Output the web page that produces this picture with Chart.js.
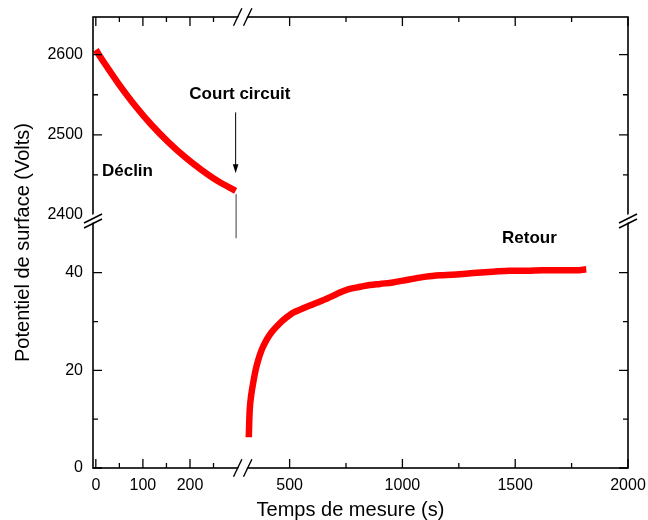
<!DOCTYPE html>
<html>
<head>
<meta charset="utf-8">
<script src="https://cdn.jsdelivr.net/npm/chart.js@4.4.1/dist/chart.umd.min.js"></script>
<style>
  html, body { margin: 0; padding: 0; background: #fff; }
  #wrap { width: 648px; height: 520px; }
</style>
</head>
<body>
<div id="wrap"><canvas id="chart" width="648" height="520"></canvas></div>
<script>
// Déclin du potentiel (avant le court-circuit) - échelle haute
const declinTemps = [0, 20, 48, 84, 119, 154, 190, 225, 260, 297];
const declinPotentiel = [2606, 2588, 2564, 2536, 2512, 2491, 2472, 2456, 2442, 2430];

// Retour du potentiel (après le court-circuit) - échelle basse
const retourTemps = [319, 321, 323, 330, 338, 348, 360, 377, 397, 420, 449, 480, 515, 555, 597, 640, 685, 720, 759, 800, 833, 900, 958, 1030, 1106, 1180, 1253, 1330, 1401, 1476, 1550, 1623, 1700, 1771, 1815];
const retourPotentiel = [6.3, 9.5, 11.8, 15.0, 17.3, 19.8, 22.0, 24.3, 26.2, 27.8, 29.3, 30.6, 31.8, 32.6, 33.4, 34.2, 35.1, 35.9, 36.6, 37.0, 37.3, 37.7, 38.0, 38.6, 39.2, 39.5, 39.7, 40.0, 40.2, 40.4, 40.4, 40.5, 40.5, 40.5, 40.7];

// trait gris sous la fin du déclin
const chuteTemps = [298, 298];
const chutePotentiel = [2426, 2371];

// graduations
const xGaucheTicks = [0, 100, 200];
const xGaucheMineurs = [50, 150, 250];
const xDroiteTicks = [500, 1000, 1500, 2000];
const xDroiteMineurs = [750, 1250, 1750];
const yHautTicks = [2400, 2500, 2600];
const yHautMineurs = [2450, 2550];
const yBasTicks = [0, 20, 40];
const yBasMineurs = [10, 30];

const FONT = '"Liberation Sans", Arial, sans-serif';

const toPoints = (xs, ys) => xs.map((x, i) => ({x: x, y: ys[i]}));
const setTicks = (values) => (scale) => { scale.ticks = values.map(v => ({value: v})); };

// taille fixe des axes, sans marge ajoutée pour les étiquettes de bord
const fixSize = (w, h) => (s) => {
  if (w) s.width = w;
  if (h) s.height = h;
  s.paddingLeft = 0; s.paddingRight = 0;
  s.paddingTop = 0; s.paddingBottom = 0;
};

const tickOpts = {
  font: {family: FONT, size: 16},
  color: '#000',
  autoSkip: false,
  maxRotation: 0,
  callback: v => String(v)
};

// cadre, graduations intérieures, coupures d'axes et annotations
const cadre = {
  id: 'cadre',
  afterDatasetsDraw(chart) {
    const {ctx, chartArea: a, scales} = chart;
    const xL = scales.xL, xR = scales.xR, yH = scales.yH, yB = scales.yB;
    const bx = xL.right;
    const by = yH.bottom;

    ctx.save();
    ctx.strokeStyle = '#000';
    ctx.fillStyle = '#000';
    ctx.lineWidth = 1.6;
    ctx.strokeRect(a.left, a.top, a.right - a.left, a.bottom - a.top);

    ctx.lineWidth = 1.3;
    const tickX = (scale, values, len) => {
      values.forEach(v => {
        const px = scale.getPixelForValue(v);
        if (Math.abs(px - bx) < 6) return;
        ctx.beginPath();
        ctx.moveTo(px, a.bottom); ctx.lineTo(px, a.bottom - len);
        ctx.moveTo(px, a.top); ctx.lineTo(px, a.top + len);
        ctx.stroke();
      });
    };
    const tickY = (scale, values, len) => {
      values.forEach(v => {
        const py = scale.getPixelForValue(v);
        if (Math.abs(py - by) < 6) return;
        ctx.beginPath();
        ctx.moveTo(a.left, py); ctx.lineTo(a.left + len, py);
        ctx.moveTo(a.right, py); ctx.lineTo(a.right - len, py);
        ctx.stroke();
      });
    };
    tickX(xL, xGaucheTicks, 9); tickX(xL, xGaucheMineurs, 5);
    tickX(xR, xDroiteTicks, 9); tickX(xR, xDroiteMineurs, 5);
    tickY(yH, yHautTicks, 9); tickY(yH, yHautMineurs, 5);
    tickY(yB, yBasTicks, 9); tickY(yB, yBasMineurs, 5);

    // coupures "//"
    const coupureH = (cx, cy) => {
      ctx.fillStyle = '#fff';
      ctx.beginPath();
      ctx.moveTo(cx - 9.2, cy + 8.7); ctx.lineTo(cx + 0.8, cy - 8.7);
      ctx.lineTo(cx + 9.2, cy - 8.7); ctx.lineTo(cx - 0.8, cy + 8.7);
      ctx.closePath(); ctx.fill();
      ctx.beginPath();
      ctx.moveTo(cx - 9.2, cy + 8.7); ctx.lineTo(cx - 0.8, cy - 8.7);
      ctx.moveTo(cx + 0.8, cy + 8.7); ctx.lineTo(cx + 9.2, cy - 8.7);
      ctx.stroke();
    };
    const coupureV = (cx, cy) => {
      ctx.fillStyle = '#fff';
      ctx.beginPath();
      ctx.moveTo(cx - 9, cy); ctx.lineTo(cx + 9, cy - 9);
      ctx.lineTo(cx + 9, cy - 1); ctx.lineTo(cx - 9, cy + 8);
      ctx.closePath(); ctx.fill();
      ctx.beginPath();
      ctx.moveTo(cx - 9, cy + 4); ctx.lineTo(cx + 9, cy - 5);
      ctx.moveTo(cx - 9, cy + 9); ctx.lineTo(cx + 9, cy);
      ctx.stroke();
    };
    ctx.lineWidth = 1.4;
    coupureH(bx, a.bottom);
    coupureH(bx, a.top);
    coupureV(a.left, by);
    coupureV(a.right, by);

    // annotations
    ctx.fillStyle = '#000';
    ctx.textBaseline = 'middle';
    ctx.font = 'bold 17px ' + FONT;
    ctx.textAlign = 'center';
    ctx.fillText('Court circuit', xL.getPixelForValue(306), yH.getPixelForValue(2550));
    ctx.fillText('Retour', xR.getPixelForValue(1563), yB.getPixelForValue(47.1));
    ctx.textAlign = 'left';
    ctx.fillText('Déclin', xL.getPixelForValue(13), yH.getPixelForValue(2454));

    // flèche
    const ax = xL.getPixelForValue(297);
    const ay1 = yH.getPixelForValue(2528);
    const ay2 = yH.getPixelForValue(2452);
    ctx.lineWidth = 1;
    ctx.beginPath();
    ctx.moveTo(ax, ay1); ctx.lineTo(ax, ay2 - 6);
    ctx.stroke();
    ctx.beginPath();
    ctx.moveTo(ax, ay2); ctx.lineTo(ax - 2.8, ay2 - 9); ctx.lineTo(ax + 2.8, ay2 - 9);
    ctx.closePath(); ctx.fill();

    // titres des axes
    ctx.font = '20px ' + FONT;
    ctx.textAlign = 'center';
    ctx.fillText('Temps de mesure (s)', 350.5, a.bottom + 42);
    ctx.translate(23, (a.top + a.bottom) / 2);
    ctx.rotate(-Math.PI / 2);
    ctx.fillText('Potentiel de surface (Volts)', 0, 0);
    ctx.restore();
  }
};

new Chart(document.getElementById('chart'), {
  type: 'line',
  data: {
    datasets: [
      {
        label: 'Chute',
        data: toPoints(chuteTemps, chutePotentiel),
        xAxisID: 'xL', yAxisID: 'yH',
        borderColor: 'rgba(0,0,0,0.3)',
        borderWidth: 1,
        pointRadius: 0,
        clip: false
      },
      {
        label: 'Déclin',
        data: toPoints(declinTemps, declinPotentiel),
        xAxisID: 'xL', yAxisID: 'yH',
        borderColor: '#ff0000',
        borderWidth: 6.5,
        borderJoinStyle: 'round',
        tension: 0.3,
        pointRadius: 0
      },
      {
        label: 'Retour',
        data: toPoints(retourTemps, retourPotentiel),
        xAxisID: 'xR', yAxisID: 'yB',
        borderColor: '#ff0000',
        borderWidth: 6.5,
        borderJoinStyle: 'round',
        cubicInterpolationMode: 'monotone',
        pointRadius: 0
      }
    ]
  },
  options: {
    responsive: false,
    animation: false,
    events: [],
    layout: {padding: {top: 17, right: 20, left: 0, bottom: 0}},
    plugins: {legend: {display: false}, tooltip: {enabled: false}},
    scales: {
      xL: {
        type: 'linear', position: 'bottom', stack: 'x', stackWeight: 149.7,
        min: -6, max: 312,
        grid: {display: false, drawTicks: false}, border: {display: false},
        afterBuildTicks: setTicks(xGaucheTicks),
        afterFit: fixSize(0, 52),
        ticks: Object.assign({padding: 8}, tickOpts)
      },
      xR: {
        type: 'linear', position: 'bottom', stack: 'x', stackWeight: 385.3,
        min: 292, max: 2000,
        grid: {display: false, drawTicks: false}, border: {display: false},
        afterBuildTicks: setTicks(xDroiteTicks),
        afterFit: fixSize(0, 52),
        ticks: Object.assign({padding: 8}, tickOpts)
      },
      yB: {
        type: 'linear', position: 'left', stack: 'y', stackWeight: 249,
        min: 0, max: 51,
        grid: {display: false, drawTicks: false}, border: {display: false},
        afterBuildTicks: setTicks(yBasTicks),
        afterFit: fixSize(93, 0),
        ticks: Object.assign({padding: 10}, tickOpts)
      },
      yH: {
        type: 'linear', position: 'left', stack: 'y', stackWeight: 202,
        min: 2395, max: 2647,
        grid: {display: false, drawTicks: false}, border: {display: false},
        afterBuildTicks: setTicks(yHautTicks),
        afterFit: fixSize(93, 0),
        ticks: Object.assign({padding: 10}, tickOpts)
      }
    }
  },
  plugins: [cadre]
});
</script>
</body>
</html>
